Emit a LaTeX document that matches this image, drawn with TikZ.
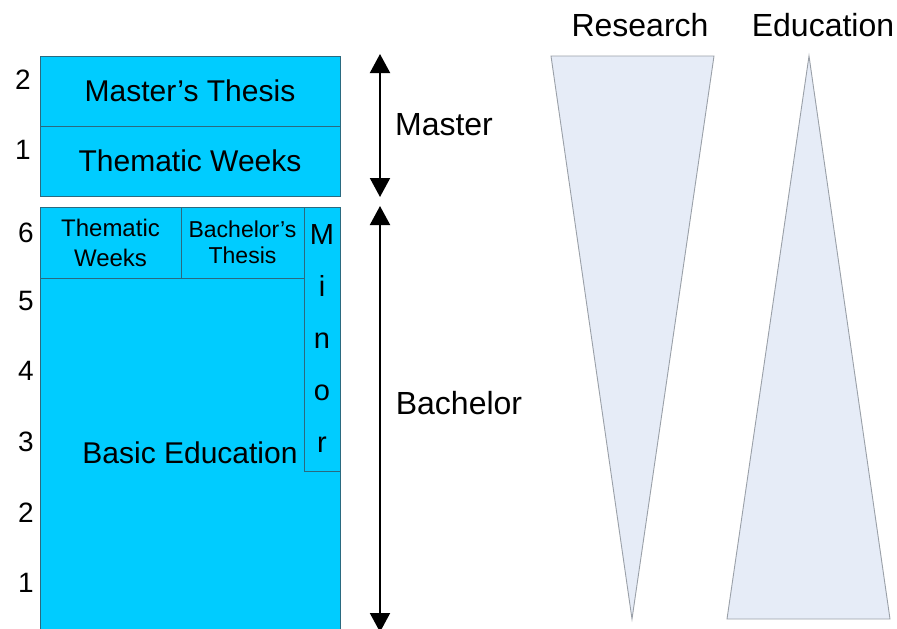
\documentclass[tikz,border=0pt]{standalone}
\usepackage{fontspec}
\setmainfont{Liberation Sans}
\usetikzlibrary{arrows.meta}
\definecolor{boxcyan}{HTML}{00CCFF}
\definecolor{boxline}{HTML}{2A6A80}
\definecolor{trifill}{HTML}{E6ECF7}
\definecolor{triline}{HTML}{9AA0A8}
\newcommand{\fs}[2]{\fontsize{#1}{#2}\selectfont}
\begin{document}
\begin{tikzpicture}[x=1pt,y=-1pt,
  box/.style={draw=boxline, fill=boxcyan, line width=0.9pt, inner sep=0pt, outer sep=0pt, anchor=north west},
  num/.style={font=\fs{28}{30}, inner sep=0pt},
  lbl/.style={font=\fs{32}{34}, inner sep=0pt},
  arr/.style={line width=2pt, {Triangle[width=20pt,length=19pt]}-{Triangle[width=20pt,length=19pt]}},
  tri/.style={draw=triline, fill=trifill, line width=0.9pt, line join=miter}]
\useasboundingbox (0,0) rectangle (897,629);
% Master block
\node[box, minimum width=300pt, minimum height=70pt, font=\fs{30}{31}] (mthesis) at (40,56) {Master’s Thesis};
\node[box, minimum width=300pt, minimum height=70pt, font=\fs{30}{31}] (mtw) at (40,126) {Thematic Weeks};
% Bachelor block
\node[box, minimum width=300pt, minimum height=360pt] (basic) at (40,278) {};
\node[font=\fs{30}{31}, inner sep=0pt] (basictext) at (190,453) {Basic Education};
\node[box, minimum width=141pt, minimum height=71pt, align=center, font=\fs{24}{30}] (btw) at (40,207) {Thematic\\Weeks};
\node[box, minimum width=123pt, minimum height=71pt, align=center, font=\fs{23}{26}] (bthesis) at (181,207) {Bachelor’s\\Thesis};
\node[box, minimum width=36pt, minimum height=264pt, align=center, font=\fs{29}{52}] (minor) at (304,207) {M\\i\\n\\o\\r};
% year numbers
\node[num] (m2) at (23,80) {2};
\node[num] (m1) at (23,150) {1};
\node[num] (b6) at (26,233) {6};
\node[num] (b5) at (26,301) {5};
\node[num] (b4) at (26,371) {4};
\node[num] (b3) at (26,442) {3};
\node[num] (b2) at (26,513) {2};
\node[num] (b1) at (26,583) {1};
% arrows
\coordinate (mtop) at (380,54);
\coordinate (mbot) at (380,197);
\coordinate (btop) at (380,206);
\coordinate (bbot) at (380,632);
\draw[arr] (mtop) -- (mbot);
\draw[arr] (btop) -- (bbot);
\node[lbl] (master) at (444,125) {Master};
\node[lbl] (bachelor) at (459,403) {Bachelor};
% triangles
\node[lbl] (research) at (640,25) {Research};
\node[lbl] (education) at (823,25) {Education};
\coordinate (r1) at (551,56);
\coordinate (r2) at (714,56);
\coordinate (r3) at (632,619);
\coordinate (e1) at (809,56);
\coordinate (e2) at (890,619);
\coordinate (e3) at (727,619);
\draw[tri] (r1) -- (r2) -- (r3) -- cycle;
\draw[tri] (e1) -- (e2) -- (e3) -- cycle;
\end{tikzpicture}
\end{document}
